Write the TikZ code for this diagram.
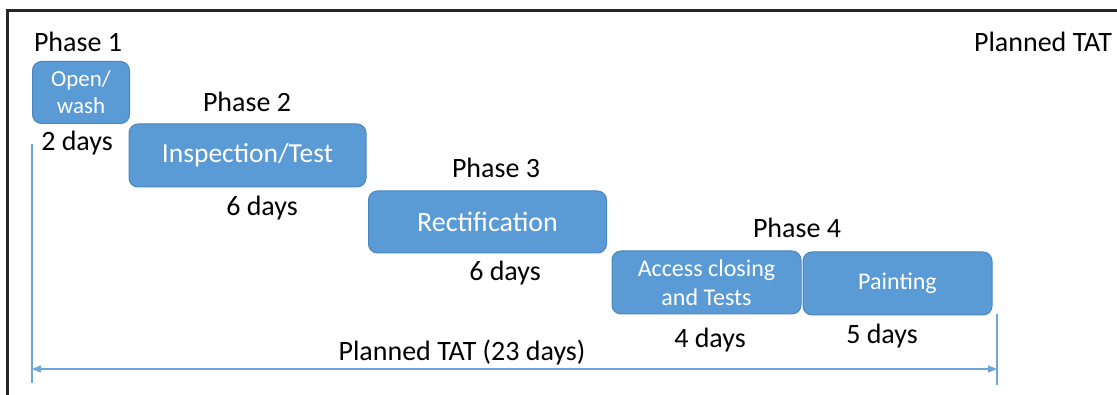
\documentclass[tikz,border=0pt]{standalone}
\usepackage{fontspec}
\setmainfont{Carlito}
\usetikzlibrary{arrows.meta}
\definecolor{boxblue}{HTML}{5B9BD5}
\definecolor{boxedge}{HTML}{4A86C0}
\definecolor{linblue}{HTML}{6FA6DA}
\begin{document}
\begin{tikzpicture}[x=1pt,y=-1pt,
  phasebox/.style={draw=boxedge, line width=1pt, fill=boxblue, rounded corners=9pt, text=white, align=center, inner sep=0pt},
  lbl/.style={font=\fontsize{28}{32}\selectfont, text=black, inner sep=0pt},
  arrowline/.style={draw=linblue, line width=1.3pt},
  framel/.style={line width=3pt, draw=black!85}]
\useasboundingbox (0,0) rectangle (1117,395);
\fill[white] (0,0) rectangle (1117,395);
% frame
\coordinate (fbl) at (7.5,395);
\coordinate (ftl) at (7.5,10.5);
\coordinate (ftr) at (1117,10.5);
\draw[framel] (fbl) -- (ftl) -- (ftr);
% boxes
\node[phasebox, minimum width=97, minimum height=62, font=\fontsize{23}{27}\selectfont] (b1) at (81,92.5) {Open/\\wash};
\node[phasebox, minimum width=237, minimum height=63, font=\fontsize{27.5}{31}\selectfont] (b2) at (247.5,155.5) {\raisebox{-2pt}{Inspection/Test}};
\node[phasebox, minimum width=238, minimum height=62, font=\fontsize{28}{31}\selectfont] (b3) at (487.5,222) {Rectification};
\node[phasebox, minimum width=189, minimum height=63, font=\fontsize{24}{29}\selectfont] (b4) at (706.5,282.5) {Access closing\\and Tests};
\node[phasebox, minimum width=189, minimum height=63, font=\fontsize{24}{29}\selectfont] (b5) at (897.5,283.5) {Painting};
% labels
\node[lbl] (p1) at (78,42) {Phase 1};
\node[lbl] (p2) at (247,102) {Phase 2};
\node[lbl] (p3) at (496,168) {Phase 3};
\node[lbl] (p4) at (797,228) {Phase 4};
\node[lbl] (d1) at (77,143) {2 days};
\node[lbl] (d2) at (262,208) {6 days};
\node[lbl] (d3) at (505,273) {6 days};
\node[lbl] (d4) at (710,340) {4 days};
\node[lbl] (d5) at (882,336) {5 days};
\node[lbl] (tat) at (462,353) {Planned TAT (23 days)};
\node[lbl] (tattop) at (1043,42) {Planned TAT};
% dimension line
\coordinate (vlt) at (32,144);
\coordinate (vlb) at (32,383);
\coordinate (vrt) at (997,314);
\coordinate (vrb) at (997,385);
\coordinate (al) at (32,369);
\coordinate (ar) at (997,369);
\draw[arrowline] (vlt) -- (vlb);
\draw[arrowline] (vrt) -- (vrb);
\draw[arrowline, {Triangle[length=9pt,width=7pt]}-{Triangle[length=9pt,width=7pt]}] (al) -- (ar);
\end{tikzpicture}
\end{document}
